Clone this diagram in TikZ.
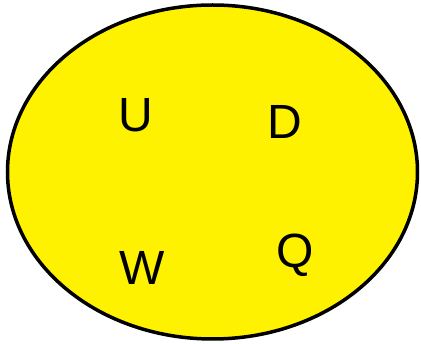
\documentclass[tikz,border=0pt]{standalone}
\usepackage{fontspec}
\setmainfont{Liberation Sans}
\begin{document}
\begin{tikzpicture}[x=1pt,y=-1pt,
  lbl/.style={font=\fontsize{48}{56}\selectfont, inner sep=0pt}]
\useasboundingbox (0,0) rectangle (421,344);
\draw[line width=3.5pt, fill=yellow] (212.5,172) ellipse [x radius=205, y radius=167];
\node[lbl] (u) at (136,115) {U};
\node[lbl] (d) at (285,122) {D};
\node[lbl] (w) at (142,268) {W};
\node[lbl] (q) at (295,255) {Q};
\end{tikzpicture}
\end{document}
